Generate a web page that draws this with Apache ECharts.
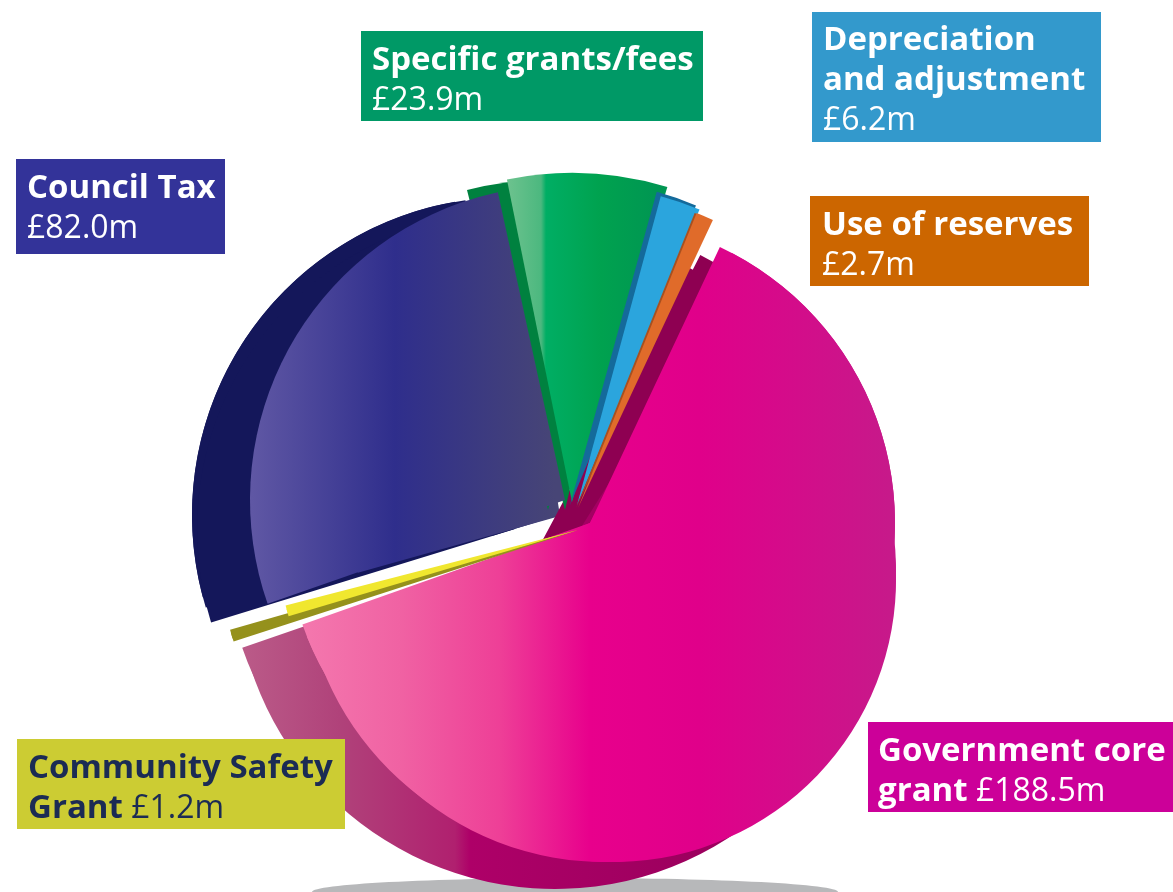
<!DOCTYPE html>
<html><head><meta charset="utf-8">
<style>html,body{margin:0;padding:0;background:#fff}#c{width:1173px;height:892px}</style>
<script src="https://cdn.jsdelivr.net/npm/echarts@6/dist/echarts.min.js"></script>
</head><body><div id="c"></div>
<script>
// ---- data ----
const categories = ['Government core grant','Community Safety Grant','Council Tax','Specific grants/fees','Depreciation and adjustment','Use of reserves'];
const values = [188.5, 1.2, 82.0, 23.9, 6.2, 2.7];
// ---- layout ----
const total = values.reduce((a,b)=>a+b,0);
const BASE = 24.8;
const startOf = i => BASE + values.slice(0,i).reduce((a,b)=>a+b,0)/total*360;
const grad = (x0,x1,stops) => new echarts.graphic.LinearGradient(x0,0,x1,0,
  stops.map(s=>({offset:(s[0]-x0)/(x1-x0),color:s[1]})), true);
const govFront = grad(302,896,[[302,'#f478ae'],[400,'#f062a3'],[500,'#ee3f97'],[590,'#e8008c'],[700,'#e0008a'],[896,'#c61a8a']]);
const govWall = grad(245,700,[[245,'#ba5a88'],[340,'#b0427a'],[455,'#b0206f'],[470,'#ae0068'],[700,'#9c005e']]);
const govWallTop = grad(245,700,[[245,'#ba5a88'],[340,'#b0427a'],[455,'#b0206f'],[470,'#ae0068'],[530,'#ae0068'],[548,'#8e0052'],[700,'#8e0052']]);
const taxFront = grad(252,555,[[252,'#5f57a4'],[395,'#2f2e8c'],[555,'#474576']]);
const greenFront = grad(508,660,[[508,'#6cc28e'],[541,'#4cb87f'],[546,'#00ae64'],[600,'#00a24f'],[657,'#009652']]);
// [value index, centre x, centre y, radius, angle nudge, fill]
const layers = [
  [2,510,515,318,4,'#14175a'],
  [2,510,515,318,5.92,'#14175a'],
  [2,515,529,318,3.82,'#14175a'],
  [2,550,518,60,3.82,'#14175a'],
  [2,560,516,210,5.22,taxFront],
  [0,555,540,320,2.2,'#8e0052'],
  [0,540,545,315,3.3,govWallTop],
  [0,555,569,320,7.3,govWall],
  [3,548,510,330,-0.23,'#00813f'],
  [3,565,510,200,-1,'#00813f'],
  [3,572,502,329,2.57,greenFront],
  [4,570,505,325,1.2,'#146a9b'],
  [4,577,505,320,0.9,'#2ba5dd'],
  [5,576,508,318,0.3,'#a8501f'],
  [5,578,508,318,0.3,'#e06b2a'],
  [2,565,500,315,1.67,taxFront],
  [0,590,523,305,2.9,govFront],
  [0,590,523,305,0.4,govFront],
  [0,598,560,296,1.4,govFront],
  [0,604,570,292,2.2,govFront],
  [0,614,580,282,2.2,govFront],
  [1,578,530,362,4.41,'#95911c'],
  [1,578,530,362,4.91,'#95911c'],
  [1,578,530,302,5.74,'#f0e72f'],
  [1,578,530,302,6.44,'#f0e72f']
];
const series = layers.map((l,k)=>({
  type:'pie', name:categories[l[0]], silent:true, animation:false, z:2+k,
  center:[l[1],l[2]], radius:[0,l[3]], startAngle:90-(startOf(l[0])+l[4]), clockwise:true,
  label:{show:false}, labelLine:{show:false}, emphasis:{disabled:true},
  data:[
    {value:values[l[0]],name:categories[l[0]],itemStyle:{color:l[5]}},
    {value:total-values[l[0]],name:'rest',itemStyle:{color:'transparent'}}
  ]
}));
const money = i => '£'+values[i].toFixed(1)+'m';
const rich = ink => ({
  b:{fontFamily:'Open Sans',fontWeight:'bold',fontSize:33,lineHeight:40,color:ink},
  n:{fontFamily:'Open Sans',fontWeight:'normal',fontSize:32,lineHeight:40,color:ink}
});
const boxes = [
  [361,31,342,90,'#009966','#fff',372,41,'{b|Specific grants/fees}\n{n|'+money(3)+'}'],
  [812,12,289,130,'#3399cc','#fff',823,21,'{b|Depreciation}\n{b|and adjustment}\n{n|'+money(4)+'}'],
  [16,159,209,95,'#333399','#fff',27,169,'{b|Council Tax}\n{n|'+money(2)+'}'],
  [810,196,279,90,'#cc6600','#fff',822,206,'{b|Use of reserves}\n{n|'+money(5)+'}'],
  [868,722,305,90,'#cc0099','#fff',878,732,'{b|Government core}\n{b|grant}{n| '+money(0)+'}'],
  [17,739,328,90,'#cccc33','#1b2b54',28,749,'{b|Community Safety}\n{b|Grant}{n| '+money(1)+'}']
];
const graphic = [{type:'ellipse',z:0,silent:true,shape:{cx:575,cy:892,rx:263,ry:14},style:{fill:'#b7b8ba'}}];
boxes.forEach(b=>{
  graphic.push({type:'rect',z:100,silent:true,shape:{x:b[0],y:b[1],width:b[2],height:b[3]},style:{fill:b[4]}});
  graphic.push({type:'text',z:101,silent:true,x:b[6],y:b[7],style:{text:b[8],rich:rich(b[5]),fill:b[5],textAlign:'left',textVerticalAlign:'top'}});
});
const chart = echarts.init(document.getElementById('c'),null,{renderer:'canvas'});
chart.setOption({animation:false,backgroundColor:'#fff',tooltip:{show:false},legend:{show:false},series,graphic});
</script></body></html>
